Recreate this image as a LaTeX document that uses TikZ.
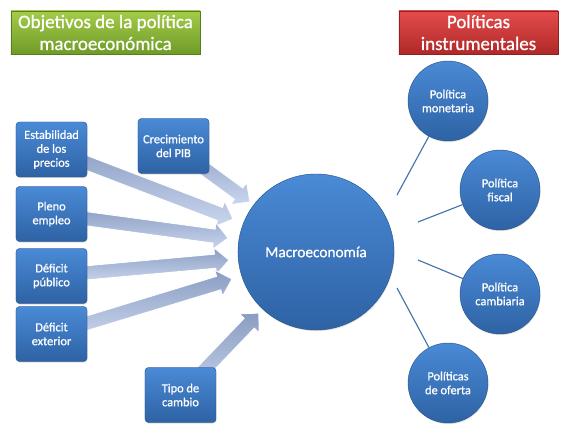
\documentclass[tikz,border=0pt]{standalone}
\usepackage{fontspec}
\setmainfont{Carlito}[RawFeature={embolden=0.8}]
\usetikzlibrary{calc,backgrounds,shadows}

\definecolor{azulclaro}{HTML}{4A8AD6}
\definecolor{azuloscuro}{HTML}{2E62A4}
\definecolor{flechaclara}{HTML}{CAD6EE}
\definecolor{flechaoscura}{HTML}{8A9DC2}
\definecolor{verdeclaro}{HTML}{A4CC4A}
\definecolor{verdeoscuro}{HTML}{6F9B27}
\definecolor{rojoclaro}{HTML}{E44C4C}
\definecolor{rojooscuro}{HTML}{B02828}

% flecha ancha desde el centro de #1 hasta la punta #2
\newcommand\flecha[2]{%
  \path[flechagrande] let \p1=(#1), \p2=(#2), \n1={atan2(\y2-\y1,\x2-\x1)}, \n2={veclen(\x2-\x1,\y2-\y1)} in
    {[shift={(\p1)}, rotate=\n1] (0,-5pt) -- (\n2-9.9pt,-5pt) -- (\n2-9.9pt,-9.6pt) -- (\n2,0)
      -- (\n2-9.9pt,9.6pt) -- (\n2-9.9pt,5pt) -- (0,5pt) -- cycle};}

\begin{document}
\begin{tikzpicture}[x=0.025cm, y=-0.025cm,
	caja/.style={rectangle, rounded corners=2.5pt, top color=azulclaro, bottom color=azuloscuro, draw=azuloscuro!85!black, line width=0.3pt, minimum width=1.775cm, minimum height=1.375cm, inner sep=1pt, align=center, text=white, font=\fontsize{8.8}{9.9}\selectfont, drop shadow={opacity=0.25, shadow xshift=0.4pt, shadow yshift=-0.8pt}},
	circulo/.style={circle, top color=azulclaro, bottom color=azuloscuro, draw=azuloscuro!85!black, line width=0.3pt, minimum size=2cm, inner sep=0pt, align=center, text=white, font=\fontsize{8.8}{9.9}\selectfont, drop shadow={opacity=0.25, shadow xshift=0.4pt, shadow yshift=-0.8pt}},
	titulo/.style={rectangle, minimum height=1.075cm, inner sep=0pt, align=center, text=white, font=\fontsize{13.5}{15.6}\selectfont, drop shadow={opacity=0.25, shadow xshift=0.5pt, shadow yshift=-1pt}},
	flechagrande/.style={top color=flechaoscura, bottom color=flechaclara, draw=white, line width=0.6pt, line join=miter},
	linea/.style={draw=azuloscuro!90, line width=0.8pt}]
	\useasboundingbox (0,0) rectangle (588,448);
	
	% Titulos
	\node[titulo, minimum width=4.725cm, top color=verdeclaro, bottom color=verdeoscuro, draw=verdeoscuro!80!black] (objetivos) at (105.5,32.5) {Objetivos de la política\\macroeconómica};
	\node[titulo, minimum width=3.975cm, top color=rojoclaro, bottom color=rojooscuro, draw=rojooscuro!80!black] (politicas) at (478.5,32.5) {Políticas\\instrumentales};
	
	% Objetivos
	\node[caja] (estab) at (51.5,149.5) {Estabilidad\\de los\\precios};
	\node[caja] (pleno) at (51.5,214) {Pleno\\empleo};
	\node[caja] (publico) at (51.5,276) {Déficit\\público};
	\node[caja] (exterior) at (51.5,334) {Déficit\\exterior};
	\node[caja] (pib) at (173.5,146) {Crecimiento\\del PIB};
	\node[caja] (cambio) at (180.5,395) {Tipo de\\cambio};
	
	% Centro
	\node[circulo, minimum size=3.9cm, font=\fontsize{10.9}{12}\selectfont] (macro) at (316,252) {Macroeconomía};
	
	% Politicas
	\node[circulo] (monetaria) at (448,101) {Política\\monetaria};
	\node[circulo] (fiscal) at (500,190) {Política\\fiscal};
	\node[circulo] (cambiaria) at (500,294) {Política\\cambiaria};
	\node[circulo] (oferta) at (448,383) {Políticas\\de oferta};
	
	% Puntas de las flechas
	\coordinate (punta1) at (233,219);
	\coordinate (punta2) at (228,238);
	\coordinate (punta3) at (229,260);
	\coordinate (punta4) at (232,279);
	\coordinate (punta5) at (250,202);
	\coordinate (punta6) at (259,313);
	
	\begin{scope}[on background layer]
		\flecha{estab}{punta1}
		\flecha{pleno}{punta2}
		\flecha{publico}{punta3}
		\flecha{exterior}{punta4}
		\flecha{pib}{punta5}
		\flecha{cambio}{punta6}
	\end{scope}
	
	% Lineas hacia las politicas
	\coordinate (ini1) at (397,195);
	\coordinate (ini2) at (418,222);
	\coordinate (ini3) at (418,260);
	\coordinate (ini4) at (397,288);
	\draw[linea] (ini1) -- (monetaria);
	\draw[linea] (ini2) -- (fiscal);
	\draw[linea] (ini3) -- (cambiaria);
	\draw[linea] (ini4) -- (oferta);
	
\end{tikzpicture}
\end{document}
